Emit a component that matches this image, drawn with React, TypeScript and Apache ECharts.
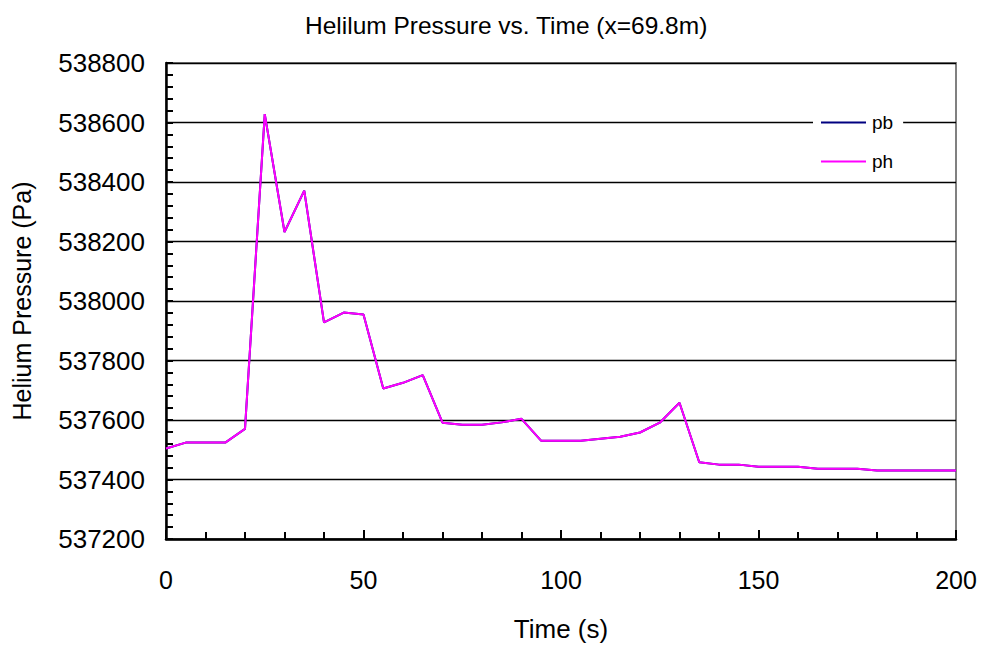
import React, { useEffect, useRef } from "react";
import * as echarts from "echarts";

const times = [0, 5, 10, 15, 20, 25, 30, 35, 40, 45, 50, 55, 60, 65, 70, 75, 80, 85, 90, 95, 100,
  105, 110, 115, 120, 125, 130, 135, 140, 145, 150, 155, 160, 165, 170, 175, 180, 185, 190, 195, 200];

const phValues = [537504, 537524, 537524, 537524, 537570, 538628, 538232, 538371, 537928, 537961, 537955,
  537706, 537725, 537751, 537591, 537584, 537584, 537592, 537604, 537530, 537530,
  537530, 537537, 537544, 537558, 537591, 537658, 537458, 537450, 537450, 537443,
  537443, 537443, 537436, 537436, 537436, 537430, 537430, 537430, 537430, 537430];

const pbValues = [...phValues];

const titleText = "Helilum Pressure vs. Time (x=69.8m)";
const xName = "Time (s)";
const yName = "Helium Pressure (Pa)";
const seriesNames = ["pb", "ph"];

const FONT = "'Liberation Sans', Arial, sans-serif";

export default function App() {
  const ref = useRef<HTMLDivElement>(null);
  useEffect(() => {
    if (!ref.current) return;
    const chart = echarts.init(ref.current, undefined, { renderer: "svg" });
    const toPairs = (vals: number[]) => times.map((t, i) => [t, vals[i]]);
    chart.setOption({
      animation: false,
      backgroundColor: "#ffffff",
      textStyle: { fontFamily: FONT, color: "#000" },
      title: {
        text: titleText,
        left: 300,
        top: 8,
        textStyle: { fontFamily: FONT, fontSize: 24.5, fontWeight: "normal", color: "#000" },
      },
      legend: {
        orient: "vertical",
        left: 813,
        top: 105,
        padding: [8, 10, 8, 8],
        backgroundColor: "#ffffff",
        icon: "rect",
        itemWidth: 45,
        itemHeight: 2,
        itemGap: 20,
        textStyle: { fontFamily: FONT, fontSize: 19, color: "#000", padding: [0, 0, 0, 1] },
        data: seriesNames,
      },
      grid: {
        left: 166,
        right: 25,
        top: 63,
        bottom: 108,
        show: true,
        borderColor: "#808080",
        borderWidth: 2,
      },
      xAxis: {
        type: "value",
        min: 0,
        max: 200,
        interval: 50,
        name: xName,
        nameLocation: "middle",
        nameGap: 77,
        nameTextStyle: { fontFamily: FONT, fontSize: 26, color: "#000" },
        axisLine: { show: true, onZero: false, lineStyle: { color: "#000", width: 2.5 } },
        axisTick: { show: true, inside: true, length: 9, lineStyle: { color: "#000", width: 2 } },
        minorTick: { show: true, splitNumber: 5, length: 7, lineStyle: { color: "#000", width: 2 } },
        axisLabel: { fontFamily: FONT, fontSize: 25, color: "#000", margin: 28 },
        splitLine: { show: false },
      },
      yAxis: {
        type: "value",
        min: 537200,
        max: 538800,
        interval: 200,
        name: yName,
        nameLocation: "middle",
        nameGap: 132,
        nameTextStyle: { fontFamily: FONT, fontSize: 25, color: "#000" },
        axisLine: { show: true, onZero: false, lineStyle: { color: "#000", width: 2.5 } },
        axisTick: { show: true, inside: true, length: 7, lineStyle: { color: "#000", width: 2 } },
        minorTick: { show: true, splitNumber: 5, length: 7, lineStyle: { color: "#000", width: 2 } },
        axisLabel: {
          fontFamily: FONT,
          fontSize: 26,
          color: "#000",
          margin: 21,
          formatter: (v: number) => String(v),
        },
        splitLine: { show: true, lineStyle: { color: "#000", width: 1.3 } },
      },
      series: [
        {
          name: seriesNames[0],
          type: "line",
          data: toPairs(pbValues),
          symbol: "none",
          lineStyle: { color: "#000080", width: 2 },
          itemStyle: { color: "#000080" },
          z: 2,
        },
        {
          name: seriesNames[1],
          type: "line",
          data: toPairs(phValues),
          symbol: "none",
          lineStyle: { color: "#ff00ff", width: 2 },
          itemStyle: { color: "#ff00ff" },
          z: 3,
        },
      ],
    });
    return () => chart.dispose();
  }, []);
  return (
    <div
      ref={ref}
      style={{ position: "fixed", left: 0, top: 0, width: 981, height: 647, background: "#fff" }}
    />
  );
}
